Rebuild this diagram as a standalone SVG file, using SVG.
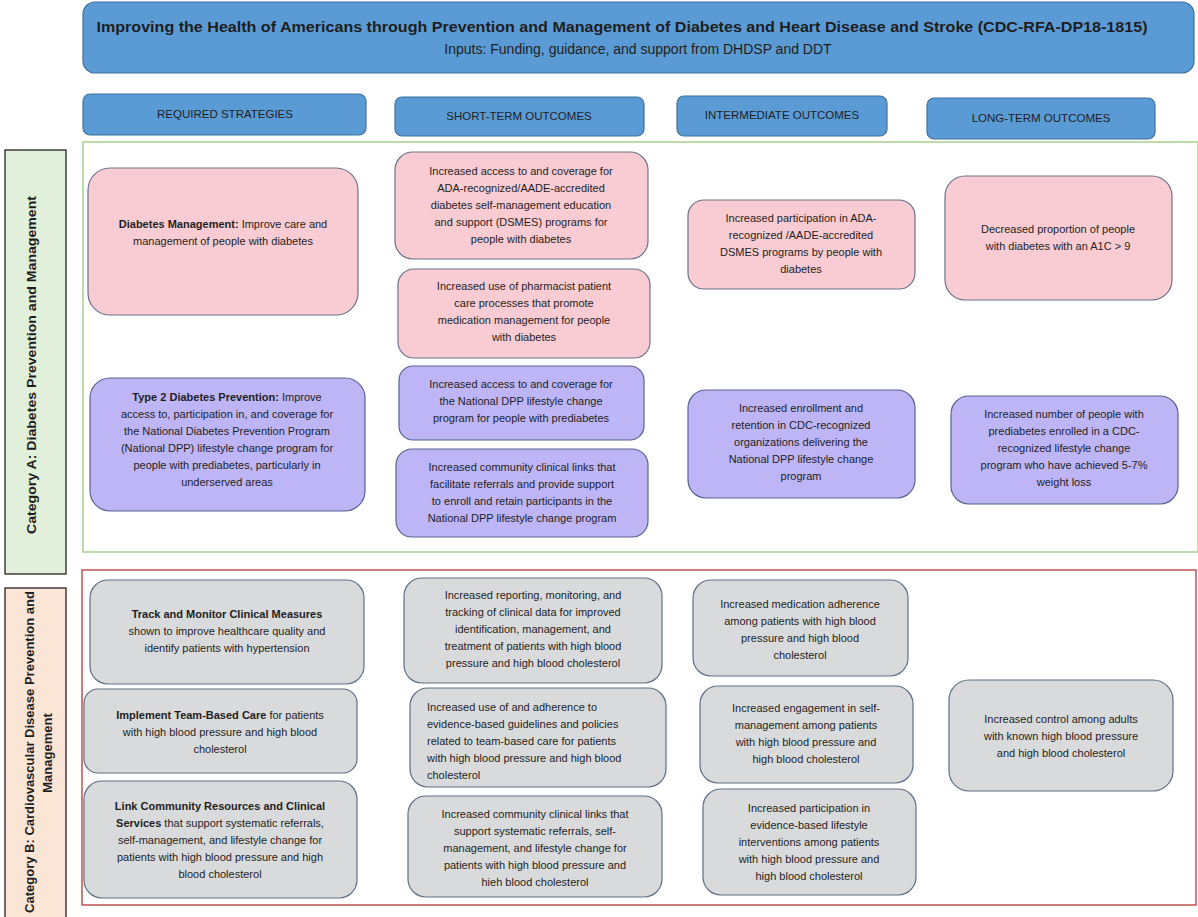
<svg xmlns="http://www.w3.org/2000/svg" width="1198" height="917" viewBox="0 0 1198 917">
<style>
text{font-family:"Liberation Sans",Arial,sans-serif;fill:#1e1e1e}
.t{font-size:11px;text-anchor:middle}
.tl{font-size:11px;text-anchor:start}
.b{font-weight:bold}
.hdr{fill:#5b9bd5;stroke:#41719c;stroke-width:1.2}
.colh{font-size:11.5px;text-anchor:middle}
.pink{fill:#f8ccd2;stroke:#6b7388;stroke-width:1.2}
.purp{fill:#bdb5f6;stroke:#5a6290;stroke-width:1.2}
.gray{fill:#d9dadc;stroke:#5f6f85;stroke-width:1.2}
.cat{font-size:13px;font-weight:bold;text-anchor:middle}
</style>
<rect width="1198" height="917" fill="#ffffff"/>

<g id="title">
<rect class="hdr" x="83" y="2" width="1111" height="71" rx="12"/>
<text x="622" y="32" font-size="14" font-weight="bold" text-anchor="middle" textLength="1051" lengthAdjust="spacingAndGlyphs">Improving the Health of Americans through Prevention and Management of Diabetes and Heart Disease and Stroke (CDC-RFA-DP18-1815)</text>
<text x="638" y="54" font-size="14" text-anchor="middle">Inputs: Funding, guidance, and support from DHDSP and DDT</text>
</g>

<g id="col-required"><rect class="hdr" x="83" y="94" width="283" height="41" rx="7"/><text class="colh" x="225" y="118">REQUIRED STRATEGIES</text></g>
<g id="col-short"><rect class="hdr" x="395" y="97" width="249" height="39" rx="7"/><text class="colh" x="519" y="120">SHORT-TERM OUTCOMES</text></g>
<g id="col-inter"><rect class="hdr" x="677" y="96" width="210" height="40" rx="7"/><text class="colh" x="782" y="119">INTERMEDIATE OUTCOMES</text></g>
<g id="col-long"><rect class="hdr" x="927" y="98" width="228" height="41" rx="7"/><text class="colh" x="1041" y="122">LONG-TERM OUTCOMES</text></g>

<g id="catA-label">
<rect x="5" y="150" width="61" height="424" fill="#e2efda" stroke="#111" stroke-width="1.2"/>
<text class="cat" transform="translate(36,365) rotate(-90)" textLength="338" lengthAdjust="spacingAndGlyphs">Category A: Diabetes Prevention and Management</text>
</g>
<g id="catA-frame"><rect x="83" y="142" width="1115" height="410" fill="none" stroke="#a9d18e" stroke-width="1.5"/></g>

<g id="catB-label">
<rect x="5" y="588" width="61" height="340" fill="#fbe5d6" stroke="#111" stroke-width="1.2"/>
<text class="cat" transform="translate(34,752) rotate(-90)" textLength="322" lengthAdjust="spacingAndGlyphs">Category B: Cardiovascular Disease Prevention and</text>
<text class="cat" transform="translate(52,753) rotate(-90)">Management</text>
</g>
<g id="catB-frame"><rect x="82" y="570" width="1114" height="335" fill="none" stroke="#c0504d" stroke-width="1.5"/></g>

<g id="connectors"></g>

<!-- Category A -->
<g id="a-strat1"><rect class="pink" x="88" y="168" width="270" height="147" rx="22"/>
<text class="t" x="223" y="228"><tspan class="b">Diabetes Management:</tspan> Improve care and</text>
<text class="t" x="223" y="245">management of people with diabetes</text></g>

<g id="a-strat2"><rect class="purp" x="90" y="378" width="275" height="133" rx="20"/>
<text class="t" x="227" y="401"><tspan class="b">Type 2 Diabetes Prevention:</tspan> Improve</text>
<text class="t" x="227" y="418">access to, participation in, and coverage for</text>
<text class="t" x="227" y="435">the National Diabetes Prevention Program</text>
<text class="t" x="227" y="452">(National DPP) lifestyle change program for</text>
<text class="t" x="227" y="469">people with prediabetes, particularly in</text>
<text class="t" x="227" y="486">underserved areas</text></g>

<g id="a-short1"><rect class="pink" x="395" y="152" width="253" height="107" rx="18"/>
<text class="t" x="521" y="175">Increased access to and coverage for</text>
<text class="t" x="521" y="192">ADA-recognized/AADE-accredited</text>
<text class="t" x="521" y="209">diabetes self-management education</text>
<text class="t" x="521" y="226">and support (DSMES) programs for</text>
<text class="t" x="521" y="243">people with diabetes</text></g>

<g id="a-short2"><rect class="pink" x="398" y="269" width="252" height="89" rx="16"/>
<text class="t" x="524" y="290">Increased use of pharmacist patient</text>
<text class="t" x="524" y="307">care processes that promote</text>
<text class="t" x="524" y="324">medication management for people</text>
<text class="t" x="524" y="341">with diabetes</text></g>

<g id="a-short3"><rect class="purp" x="399" y="366" width="245" height="74" rx="14"/>
<text class="t" x="521" y="388">Increased access to and coverage for</text>
<text class="t" x="521" y="405">the National DPP lifestyle change</text>
<text class="t" x="521" y="422">program for people with prediabetes</text></g>

<g id="a-short4"><rect class="purp" x="396" y="449" width="252" height="88" rx="16"/>
<text class="t" x="522" y="471">Increased community clinical links that</text>
<text class="t" x="522" y="488">facilitate referrals and provide support</text>
<text class="t" x="522" y="505">to enroll and retain participants in the</text>
<text class="t" x="522" y="522">National DPP lifestyle change program</text></g>

<g id="a-inter1"><rect class="pink" x="688" y="200" width="227" height="89" rx="16"/>
<text class="t" x="801" y="222">Increased participation in ADA-</text>
<text class="t" x="801" y="239">recognized /AADE-accredited</text>
<text class="t" x="801" y="256">DSMES programs by people with</text>
<text class="t" x="801" y="273">diabetes</text></g>

<g id="a-inter2"><rect class="purp" x="688" y="390" width="227" height="108" rx="18"/>
<text class="t" x="801" y="412">Increased enrollment and</text>
<text class="t" x="801" y="429">retention in CDC-recognized</text>
<text class="t" x="801" y="446">organizations delivering the</text>
<text class="t" x="801" y="463">National DPP lifestyle change</text>
<text class="t" x="801" y="480">program</text></g>

<g id="a-long1"><rect class="pink" x="945" y="176" width="227" height="124" rx="20"/>
<text class="t" x="1058" y="233">Decreased proportion of people</text>
<text class="t" x="1058" y="250">with diabetes with an A1C &gt; 9</text></g>

<g id="a-long2"><rect class="purp" x="951" y="396" width="227" height="108" rx="18"/>
<text class="t" x="1064" y="418">Increased number of people with</text>
<text class="t" x="1064" y="435">prediabetes enrolled in a CDC-</text>
<text class="t" x="1064" y="452">recognized lifestyle change</text>
<text class="t" x="1064" y="469">program who have achieved 5-7%</text>
<text class="t" x="1064" y="486">weight loss</text></g>

<!-- Category B -->
<g id="b-strat1"><rect class="gray" x="90" y="580" width="274" height="104" rx="18"/>
<text class="t" x="227" y="618"><tspan class="b">Track and Monitor Clinical Measures</tspan></text>
<text class="t" x="227" y="635">shown to improve healthcare quality and</text>
<text class="t" x="227" y="652">identify patients with hypertension</text></g>

<g id="b-strat2"><rect class="gray" x="84" y="689" width="273" height="84" rx="14"/>
<text class="t" x="220" y="719"><tspan class="b">Implement Team-Based Care</tspan> for patients</text>
<text class="t" x="220" y="736">with high blood pressure and high blood</text>
<text class="t" x="220" y="753">cholesterol</text></g>

<g id="b-strat3"><rect class="gray" x="84" y="781" width="273" height="117" rx="18"/>
<text class="t" x="220" y="810"><tspan class="b">Link Community Resources and Clinical</tspan></text>
<text class="t" x="220" y="827"><tspan class="b">Services</tspan> that support systematic referrals,</text>
<text class="t" x="220" y="844">self-management, and lifestyle change for</text>
<text class="t" x="220" y="861">patients with high blood pressure and high</text>
<text class="t" x="220" y="878">blood cholesterol</text></g>

<g id="b-short1"><rect class="gray" x="404" y="578" width="258" height="105" rx="18"/>
<text class="t" x="533" y="599">Increased reporting, monitoring, and</text>
<text class="t" x="533" y="616">tracking of clinical data for improved</text>
<text class="t" x="533" y="633">identification, management, and</text>
<text class="t" x="533" y="650">treatment of patients with high blood</text>
<text class="t" x="533" y="667">pressure and high blood cholesterol</text></g>

<g id="b-short2"><rect class="gray" x="410" y="688" width="256" height="99" rx="18"/>
<text class="tl" x="427" y="711">Increased use of and adherence to</text>
<text class="tl" x="427" y="728">evidence-based guidelines and policies</text>
<text class="tl" x="427" y="745">related to team-based care for patients</text>
<text class="tl" x="427" y="762">with high blood pressure and high blood</text>
<text class="tl" x="427" y="779">cholesterol</text></g>

<g id="b-short3"><rect class="gray" x="408" y="796" width="254" height="101" rx="18"/>
<text class="t" x="535" y="818">Increased community clinical links that</text>
<text class="t" x="535" y="835">support systematic referrals, self-</text>
<text class="t" x="535" y="852">management, and lifestyle change for</text>
<text class="t" x="535" y="869">patients with high blood pressure and</text>
<text class="t" x="535" y="886">hieh blood cholesterol</text></g>

<g id="b-inter1"><rect class="gray" x="693" y="580" width="215" height="96" rx="18"/>
<text class="t" x="800" y="608">Increased medication adherence</text>
<text class="t" x="800" y="625">among patients with high blood</text>
<text class="t" x="800" y="642">pressure and high blood</text>
<text class="t" x="800" y="659">cholesterol</text></g>

<g id="b-inter2"><rect class="gray" x="700" y="686" width="213" height="97" rx="18"/>
<text class="t" x="806" y="712">Increased engagement in self-</text>
<text class="t" x="806" y="729">management among patients</text>
<text class="t" x="806" y="746">with high blood pressure and</text>
<text class="t" x="806" y="763">high blood cholesterol</text></g>

<g id="b-inter3"><rect class="gray" x="703" y="789" width="213" height="106" rx="18"/>
<text class="t" x="809" y="812">Increased participation in</text>
<text class="t" x="809" y="829">evidence-based lifestyle</text>
<text class="t" x="809" y="846">interventions among patients</text>
<text class="t" x="809" y="863">with high blood pressure and</text>
<text class="t" x="809" y="880">high blood cholesterol</text></g>

<g id="b-long"><rect class="gray" x="949" y="680" width="224" height="111" rx="20"/>
<text class="t" x="1061" y="723">Increased control among adults</text>
<text class="t" x="1061" y="740">with known high blood pressure</text>
<text class="t" x="1061" y="757">and high blood cholesterol</text></g>
</svg>
